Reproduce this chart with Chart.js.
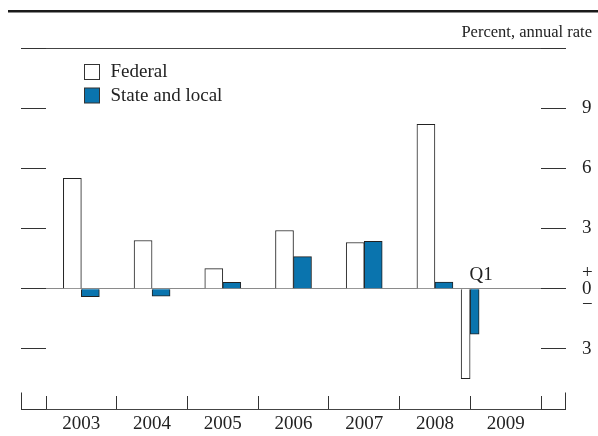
<!DOCTYPE html>
<html>
<head>
<meta charset="utf-8">
<script src="https://cdn.jsdelivr.net/npm/chart.js@4/dist/chart.umd.min.js"></script>
<style>
  html, body { margin: 0; padding: 0; background: #fff; }
  #wrap { width: 598px; height: 436px; }
</style>
</head>
<body>
<div id="wrap"><canvas id="chart"></canvas></div>
<script>
const years = ['2003', '2004', '2005', '2006', '2007', '2008', '2009'];
const federal = [5.5, 2.4, 1.0, 2.9, 2.3, 8.2, null];
const stateLocal = [-0.4, -0.38, 0.32, 1.6, 2.36, 0.33, null];

// 2009 only has the first quarter, drawn on a hidden quarterly axis
const quarterNames = ['Q1', 'Q2', 'Q3', 'Q4'];
const q1Periods = ['2009 Q1'];
const federalQ1 = [-4.49];
const stateLocalQ1 = [-2.27];

const yTicks = [-6, -3, 0, 3, 6, 9, 12];

const quarters = [];
years.forEach(y => quarterNames.forEach(q => quarters.push(y + ' ' + q)));

const SERIF = '"Liberation Serif", "Times New Roman", serif';
const BLUE = '#0a74ae';
const INK = '#222';

Chart.defaults.font.family = SERIF;
Chart.defaults.color = INK;

const decor = {
  id: 'decor',
  afterDraw(chart) {
    const {ctx, chartArea, scales} = chart;
    ctx.save();

    // heavy rule across the top
    ctx.strokeStyle = '#1a1a1a';
    ctx.lineWidth = 2.6;
    ctx.beginPath();
    ctx.moveTo(8, 11.3);
    ctx.lineTo(598, 11.3);
    ctx.stroke();

    ctx.fillStyle = INK;
    ctx.font = '16.5px ' + SERIF;
    ctx.textAlign = 'right';
    ctx.textBaseline = 'middle';
    ctx.fillText('Percent, annual rate', 592, 33);

    // taller end ticks on the bottom axis
    const yb = Math.round(scales.y.getPixelForValue(-6)) + 0.5;
    const xl = Math.round(scales.y.left) + 0.5;
    const xr = Math.round(scales.y2.left + scales.y2.options.grid.tickLength) - 0.5;
    ctx.lineWidth = 1;
    ctx.strokeStyle = '#333';
    [xl, xr].forEach(x => {
      ctx.beginPath();
      ctx.moveTo(x, yb);
      ctx.lineTo(x, yb - 17);
      ctx.stroke();
    });

    // legend inside the plot, from the annual series
    ctx.font = '19px ' + SERIF;
    ctx.textAlign = 'left';
    chart.data.datasets.filter(ds => !ds.xAxisID).forEach((ds, i) => {
      const bx = chartArea.left + 38.5;
      const by = chartArea.top + 16.5 + i * 23.5;
      ctx.fillStyle = ds.backgroundColor;
      ctx.fillRect(bx, by, 15, 15);
      ctx.strokeStyle = '#333';
      ctx.strokeRect(bx, by, 15, 15);
      ctx.fillStyle = INK;
      ctx.fillText(ds.label, bx + 26, by + 8);
    });

    // Q1 marker over the partial year
    const qx = scales.xq.getPixelForValue(quarters.indexOf(q1Periods[0]));
    ctx.textAlign = 'center';
    ctx.fillText('Q1', qx + 2, scales.y.getPixelForValue(0) - 14);

    ctx.restore();
  }
};

// dataset order: the Q1 pair wraps the annual pair so the annual
// bars land in the middle slots of their year
new Chart(document.getElementById('chart'), {
  type: 'bar',
  data: {
    labels: years,
    datasets: [{
      label: 'Federal Q1',
      xAxisID: 'xq',
      data: q1Periods.map((p, i) => ({x: p, y: federalQ1[i]})),
      backgroundColor: '#ffffff',
      borderColor: INK,
      borderWidth: 1,
      barThickness: 9
    }, {
      label: 'Federal',
      data: federal,
      backgroundColor: '#ffffff',
      borderColor: INK,
      borderWidth: 1,
      barThickness: 18
    }, {
      label: 'State and local',
      data: stateLocal,
      backgroundColor: BLUE,
      borderColor: INK,
      borderWidth: 1,
      barThickness: 18
    }, {
      label: 'State and local Q1',
      xAxisID: 'xq',
      data: q1Periods.map((p, i) => ({x: p, y: stateLocalQ1[i]})),
      backgroundColor: BLUE,
      borderColor: INK,
      borderWidth: 1,
      barThickness: 9
    }]
  },
  options: {
    responsive: true,
    maintainAspectRatio: false,
    animation: false,
    layout: { padding: { left: 21, right: 5, top: 48, bottom: 0 } },
    plugins: { legend: { display: false }, tooltip: { enabled: false } },
    scales: {
      x: {
        position: 'bottom',
        offset: true,
        border: { display: false },
        grid: {
          offset: true,
          drawOnChartArea: false,
          tickLength: -13,
          color: '#333',
          lineWidth: 1
        },
        ticks: { padding: 17, font: { size: 19 }, color: INK, maxRotation: 0, autoSkip: false },
        afterFit: s => { s.height = 27; }
      },
      xq: {
        type: 'category',
        labels: quarters,
        offset: true,
        display: false,
        grid: { offset: true }
      },
      y: {
        position: 'left',
        min: -6,
        max: 12,
        afterBuildTicks: s => { s.ticks = yTicks.map(v => ({value: v})); },
        border: { display: false },
        grid: {
          tickLength: 25,
          lineWidth: 1,
          tickColor: '#333',
          color: c => c.tick.value === 0 ? '#8a8a8a'
            : (c.tick.value === 12 || c.tick.value === -6) ? '#444' : 'rgba(0,0,0,0)'
        },
        ticks: { display: false },
        afterFit: s => { s.width = 25; }
      },
      y2: {
        position: 'right',
        min: -6,
        max: 12,
        afterBuildTicks: s => { s.ticks = yTicks.map(v => ({value: v})); },
        border: { display: false },
        grid: {
          drawOnChartArea: false,
          tickLength: 25,
          lineWidth: 1,
          tickColor: '#333'
        },
        ticks: {
          padding: 16,
          color: INK,
          font: { size: 19, lineHeight: 0.85 },
          callback: v => v === 0 ? ['+', '0', '\u2212']
            : (v === 12 || v === -6) ? '' : String(Math.abs(v))
        },
        afterFit: s => { s.width = 52; }
      }
    }
  },
  plugins: [decor]
});
</script>
</body>
</html>
